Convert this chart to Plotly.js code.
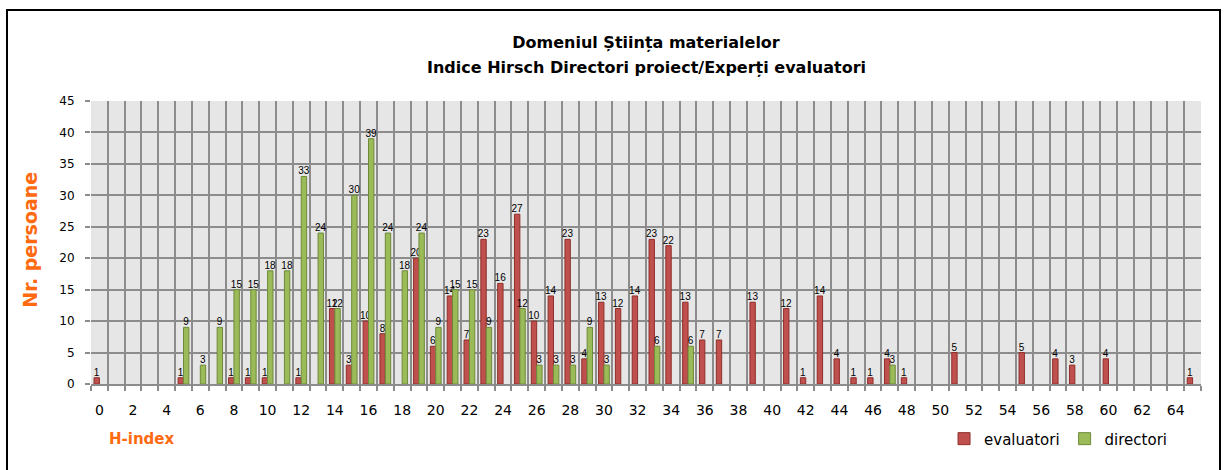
<!DOCTYPE html>
<html>
<head>
<meta charset="utf-8">
<script src="https://cdn.plot.ly/plotly-3.0.1.min.js"></script>
<style>
  html, body { margin: 0; padding: 0; background: #ffffff; }
  #wrap { position: relative; width: 1225px; height: 470px; overflow: hidden; }
  #chart { position: absolute; left: 0; top: 0; width: 1225px; height: 470px; }
  #frame { position: absolute; left: 6px; top: 9px; width: 1211px; height: 480px;
           border: 2px solid #000; pointer-events: none; box-sizing: content-box; }
</style>
</head>
<body>
<div id="wrap">
  <div id="chart"></div>
  <div id="frame"></div>
</div>
<script>
// H-index categories 0..65
const hIndex = [0,1,2,3,4,5,6,7,8,9,10,11,12,13,14,15,16,17,18,19,20,21,22,23,24,25,26,27,28,29,30,31,32,33,34,35,36,37,38,39,40,41,42,43,44,45,46,47,48,49,50,51,52,53,54,55,56,57,58,59,60,61,62,63,64,65];

// Nr. persoane – experti evaluatori
const evaluatori = [1,0,0,0,0,1,0,0,1,1,1,0,1,0,12,3,10,8,0,20,6,14,7,23,16,27,10,14,23,4,13,12,14,23,22,13,7,7,0,13,0,12,1,14,4,1,1,4,1,0,0,5,0,0,0,5,0,4,3,0,4,0,0,0,0,1];

// Nr. persoane – directori proiect
const directori = [0,0,0,0,0,9,3,9,15,15,18,18,33,24,12,30,39,24,18,24,9,15,15,9,0,12,3,3,3,9,3,0,0,6,0,6,0,0,0,0,0,0,0,0,0,0,0,3,0,0,0,0,0,0,0,0,0,0,0,0,0,0,0,0,0,0];

// tick labels shown every 2 units
const tickLabels = ['0','2','4','6','8','10','12','14','16','18','20','22','24','26','28','30','32','34','36','38','40','42','44','46','48','50','52','54','56','58','60','62','64'];

const seriesNames = ['evaluatori', 'directori'];
const titleLines = ['Domeniul Știința materialelor', 'Indice Hirsch Directori proiect/Experți evaluatori'];

const FONT = 'DejaVu Sans, Liberation Sans, sans-serif';
const LABEL_FONT = "'Liberation Sans Narrow', 'Liberation Sans', Arial, sans-serif";
const GRID = '#8C8C8C';

const labelText = arr => arr.map(v => v ? String(v) : '');
const barVals = arr => arr.map(v => v ? v : null);

const tr1 = {
  type: 'bar', name: seriesNames[0], x: hIndex, y: barVals(evaluatori),
  text: labelText(evaluatori), textposition: 'outside', cliponaxis: false,
  constraintext: 'none', textfont: {family: LABEL_FONT, size: 10, color: '#000'},
  marker: {color: '#C0504D', line: {color: '#8E2F2C', width: 1}},
  hoverinfo: 'x+y'
};
const tr2 = {
  type: 'bar', name: seriesNames[1], x: hIndex, y: barVals(directori),
  text: labelText(directori), textposition: 'outside', cliponaxis: false,
  constraintext: 'none', textfont: {family: LABEL_FONT, size: 10, color: '#000'},
  marker: {color: '#9BBB59', line: {color: '#6F8A3A', width: 1}},
  hoverinfo: 'x+y'
};

// boundaries between categories for vertical grid lines
const n = hIndex.length;
const bounds = [];
for (let i = 0; i <= n; i++) bounds.push(hIndex[0] - 0.5 + i);
const labelVals = tickLabels.map(Number);
const xr = [hIndex[0] - 0.5, hIndex[n - 1] + 0.5];

const layout = {
  width: 1225, height: 470,
  margin: {l: 91, r: 24, t: 101, b: 86, pad: 0},
  paper_bgcolor: '#ffffff',
  plot_bgcolor: '#E6E6E6',
  font: {family: FONT, color: '#000'},
  barmode: 'group', bargap: 0.36, bargroupgap: 0,
  showlegend: true,
  title: {
    text: '<b>' + titleLines[0] + '</b>',
    font: {family: FONT, size: 16, color: '#000'},
    x: 0.5, xref: 'paper', xanchor: 'center',
    y: 1 - 42 / 470, yref: 'container', yanchor: 'middle'
  },
  xaxis: {
    type: 'linear', range: xr, fixedrange: true,
    tickmode: 'array', tickvals: labelVals, ticktext: tickLabels,
    ticks: '', showgrid: false,
    tickfont: {family: FONT, size: 14, color: '#000'},
    ticklabelstandoff: 12,
    minor: {
      tickmode: 'array', tickvals: bounds,
      ticks: 'outside', ticklen: 5, tickwidth: 2, tickcolor: GRID,
      showgrid: true, gridcolor: GRID, gridwidth: 2
    },
    showline: true, linecolor: GRID, linewidth: 2,
    zeroline: false
  },
  yaxis: {
    range: [0, 45], dtick: 5, tick0: 0, fixedrange: true,
    ticks: 'outside', ticklen: 5, tickwidth: 2, tickcolor: GRID,
    showgrid: true, gridcolor: GRID, gridwidth: 2,
    zeroline: false, showline: false,
    tickfont: {family: FONT, size: 12, color: '#000'},
    ticklabelstandoff: 8
  },
  legend: {
    orientation: 'h', x: 0.7685, xanchor: 'left', y: -0.194, yanchor: 'middle',
    font: {family: FONT, size: 15, color: '#000'},
    bgcolor: 'rgba(0,0,0,0)', itemwidth: 30, traceorder: 'normal'
  },
  annotations: [
    {text: '<b>' + titleLines[1] + '</b>', xref: 'paper', yref: 'paper',
     x: 0.5, y: (384 - 67.5) / 283, xanchor: 'center', yanchor: 'middle',
     showarrow: false, font: {family: FONT, size: 16, color: '#000'}},
    {text: '<b>Nr. persoane</b>', xref: 'paper', yref: 'paper',
     x: (30 - 91) / 1110, y: 0.51, xanchor: 'center', yanchor: 'middle',
     textangle: -90, showarrow: false,
     font: {family: FONT, size: 19, color: '#FF6A10'}},
    {text: '<b>H-index</b>', xref: 'paper', yref: 'paper',
     x: (107 - 91) / 1110, y: -0.194, xanchor: 'left', yanchor: 'middle',
     showarrow: false,
     font: {family: FONT, size: 15, color: '#FF6A10'}}
  ]
};

Plotly.newPlot('chart', [tr1, tr2], layout, {displayModeBar: false, staticPlot: true});
</script>
</body>
</html>
